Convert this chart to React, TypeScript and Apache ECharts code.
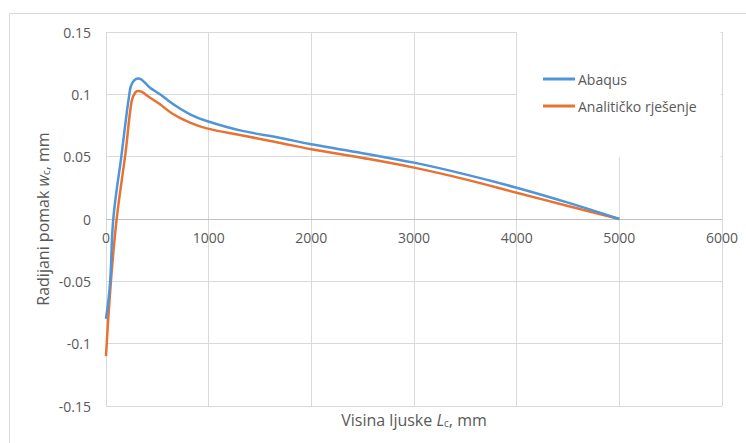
import React, { useEffect, useRef } from "react";
import * as echarts from "echarts";

const xAbaqus = [0, 39, 71, 150, 227, 255, 315, 429, 526, 656, 818, 981, 1305, 1700, 2000, 2500, 3000, 3500, 4000, 4500, 5000];
const yAbaqus = [-0.08, -0.052, 0, 0.0506, 0.1, 0.109, 0.1128, 0.1053, 0.1, 0.092, 0.084, 0.0786, 0.0711, 0.065, 0.0599, 0.0528, 0.0452, 0.0358, 0.0251, 0.0131, 0];

const xAnalytic = [0, 46, 104, 190, 250, 285, 315, 429, 526, 656, 818, 981, 1305, 1700, 2000, 2500, 3000, 3500, 4000, 4500, 5000];
const yAnalytic = [-0.11, -0.052, 0, 0.053, 0.0946, 0.1015, 0.1027, 0.0973, 0.092, 0.084, 0.0773, 0.0727, 0.0674, 0.061, 0.0559, 0.049, 0.0412, 0.0318, 0.0211, 0.0104, 0];

const seriesNames = ["Abaqus", "Analitičko rješenje"];
const xTicks = { min: 0, max: 6000, interval: 1000 };
const yTicks = { min: -0.15, max: 0.15, interval: 0.05 };

const FONT = "Open Sans, Liberation Sans, Arial, sans-serif";
const TXT = "#595959";

// grid geometry
const GRID_TOP = 32;
const GRID_BOTTOM_PX = 406;
const ZERO_PX = GRID_TOP + ((yTicks.max - 0) / (yTicks.max - yTicks.min)) * (GRID_BOTTOM_PX - GRID_TOP);

export default function App() {
  const ref = useRef<HTMLDivElement>(null);
  useEffect(() => {
    document.body.style.margin = "0";
    if (!ref.current) return;
    const chart = echarts.init(ref.current, null, { renderer: "svg" });
    const pairs = (xs: number[], ys: number[]) => xs.map((x, i) => [x, ys[i]]);
    const titleRich = {
      n: { fontSize: 16, color: TXT, fontFamily: FONT },
      i: { fontSize: 16, color: TXT, fontFamily: FONT, fontStyle: "italic" },
      s: { fontSize: 10, color: TXT, fontFamily: FONT, verticalAlign: "bottom", padding: [7, 0, 0, 0] },
    };
    chart.setOption({
      animation: false,
      backgroundColor: "#fff",
      textStyle: { fontFamily: FONT },
      graphic: [
        {
          type: "rect",
          shape: { x: 9.5, y: 13.5, width: 800, height: 500 },
          style: { fill: "none", stroke: "#D9D9D9", lineWidth: 1 },
          z: -1,
        },
      ],
      grid: { left: 106, top: GRID_TOP, right: 24, bottom: 443 - GRID_BOTTOM_PX, containLabel: false, outerBoundsMode: "none" },
      legend: {
        left: 517,
        top: 32,
        orient: "vertical",
        backgroundColor: "#fff",
        padding: [40, 24, 44, 26],
        itemGap: 13,
        itemWidth: 32,
        itemHeight: 3,
        icon: "rect",
        textStyle: { color: TXT, fontSize: 14, fontFamily: FONT, padding: [0, 0, 0, -2] },
        data: seriesNames,
      },
      xAxis: {
        type: "value",
        min: xTicks.min,
        max: xTicks.max,
        interval: xTicks.interval,
        axisLine: { show: false, onZero: false },
        axisTick: { show: false },
        axisLabel: {
          color: TXT,
          fontSize: 14,
          fontFamily: FONT,
          margin: -(GRID_BOTTOM_PX - ZERO_PX) + 11,
          formatter: (v: number) => String(v),
        },
        splitLine: { show: true, lineStyle: { color: "#D9D9D9", width: 1 } },
        name: "{n|Visina ljuske }{i|L}{s|c}{n|, mm}",
        nameLocation: "middle",
        nameGap: 5,
        nameMoveOverlap: false,
        nameTextStyle: { verticalAlign: "top", rich: titleRich },
      },
      yAxis: {
        type: "value",
        min: yTicks.min,
        max: yTicks.max,
        interval: yTicks.interval,
        axisLine: { show: false },
        axisTick: { show: false },
        axisLabel: {
          color: TXT,
          fontSize: 14,
          fontFamily: FONT,
          margin: 15,
          formatter: (v: number) => String(+v.toFixed(2)),
        },
        splitLine: { show: true, lineStyle: { color: "#D9D9D9", width: 1 } },
        name: "{n|Radijani pomak }{i|w}{s|c}{n|, mm}",
        nameLocation: "middle",
        nameGap: 55,
        nameMoveOverlap: false,
        nameTextStyle: { rich: titleRich },
      },
      series: [
        {
          name: seriesNames[0],
          type: "line",
          data: pairs(xAbaqus, yAbaqus),
          showSymbol: false,
          symbol: "none",
          smooth: 0.4,
          lineStyle: { color: "#4E95D9", width: 2.5 },
          itemStyle: { color: "#4E95D9" },
          z: 3,
          markLine: {
            silent: true,
            symbol: "none",
            label: { show: false },
            lineStyle: { color: "#BFBFBF", width: 1, type: "solid" },
            z: 1,
            data: [{ yAxis: 0 }],
          },
        },
        {
          name: seriesNames[1],
          type: "line",
          data: pairs(xAnalytic, yAnalytic),
          showSymbol: false,
          symbol: "none",
          smooth: 0.4,
          lineStyle: { color: "#E97132", width: 2.5 },
          itemStyle: { color: "#E97132" },
          z: 2,
        },
      ],
    });
    return () => chart.dispose();
  }, []);
  return <div ref={ref} style={{ width: 746, height: 443 }} />;
}
